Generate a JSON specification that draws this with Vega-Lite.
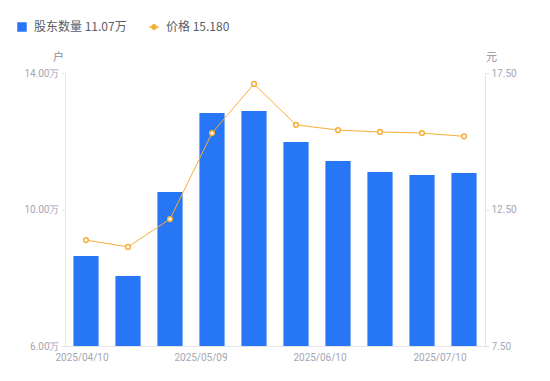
{
  "$schema": "https://vega.github.io/schema/vega-lite/v6.json",
  "width": 420,
  "height": 273,
  "autosize": {"type": "none"},
  "padding": {"left": 65, "top": 73, "right": 65, "bottom": 35},
  "background": "white",
  "config": {
    "view": {"stroke": null},
    "font": "Roboto",
    "axis": {"labelFont": "Roboto", "titleFont": "Noto Sans CJK SC", "labelColor": "#A3A6B4", "labelFontSize": 10, "domainColor": "#E3E5EA", "tickColor": "#E3E5EA", "grid": false, "titleFontWeight": "normal", "titleColor": "#8C8F9A", "titleFontSize": 11}
  },
  "data": {
    "values": [
      {"date": "2025/04/10", "holders": 8.64, "price": 11.38},
      {"date": "2025/04/20", "holders": 8.05, "price": 11.13},
      {"date": "2025/04/30", "holders": 10.51, "price": 12.15},
      {"date": "2025/05/09", "holders": 12.83, "price": 15.30},
      {"date": "2025/05/20", "holders": 12.89, "price": 17.10},
      {"date": "2025/05/31", "holders": 11.98, "price": 15.60},
      {"date": "2025/06/10", "holders": 11.42, "price": 15.41},
      {"date": "2025/06/20", "holders": 11.10, "price": 15.34},
      {"date": "2025/06/30", "holders": 11.01, "price": 15.30},
      {"date": "2025/07/10", "holders": 11.07, "price": 15.18}
    ]
  },
  "encoding": {
    "x": {
      "field": "date", "type": "ordinal", "sort": null,
      "scale": {"paddingInner": 0.4, "paddingOuter": 0.2},
      "axis": {
        "title": null, "labelAngle": 0, "ticks": false, "labelPadding": 6,
        "labelExpr": "indexof(['2025/04/10','2025/05/09','2025/06/10','2025/07/10'], datum.value) >= 0 ? datum.value : ''",
        "labelOffset": {"expr": "datum.value == '2025/04/10' ? -4 : datum.value == '2025/05/09' ? -11 : datum.value == '2025/06/10' ? -18 : -24"}
      }
    }
  },
  "layer": [
    {
      "mark": {"type": "bar", "clip": true},
      "encoding": {
        "y": {
          "field": "holders", "type": "quantitative",
          "scale": {"domain": [6, 14], "nice": false, "zero": false},
          "axis": {
            "values": [6, 10, 14], "orient": "left", "tickSize": 4, "labelPadding": 2,
            "labelExpr": "format(datum.value, '.2f') + '万'",
            "title": "户", "titleAngle": 0, "titleAlign": "center", "titleBaseline": "middle", "titleX": -7, "titleY": -16
          }
        },
        "color": {
          "datum": "股东数量", "type": "nominal",
          "scale": {"domain": ["股东数量", "价格"], "range": ["#2776F6", "#F7AE36"]},
          "legend": {
            "title": null, "orient": "none", "direction": "horizontal", "legendX": -49, "legendY": -52,
            "labelFont": "Noto Sans CJK SC", "labelFontSize": 12, "labelColor": "#5a5d66",
            "symbolSize": 90, "columnPadding": 16, "labelOffset": 6,
            "labelExpr": "datum.label == '股东数量' ? '股东数量  11.07万' : '价格  15.180'",
            "encode": {
              "symbols": {
                "update": {
                  "shape": {"signal": "datum.value === '价格' ? 'M-1,0L-0.45,0M0.45,0L1,0M0.45,0A0.45,0.45 0 1 1 -0.45,0A0.45,0.45 0 1 1 0.45,0' : 'square'"},
                  "fill": {"signal": "datum.value === '价格' ? 'white' : '#2776F6'"},
                  "stroke": {"signal": "datum.value === '价格' ? '#F7AE36' : '#2776F6'"},
                  "strokeWidth": {"signal": "datum.value === '价格' ? 1.5 : 0"},
                  "size": {"signal": "datum.value === '价格' ? 90 : 90"}
                }
              }
            }
          }
        }
      }
    },
    {
      "layer": [
        {
          "mark": {"type": "line", "strokeWidth": 1, "color": "#F7AE36"},
          "encoding": {
            "y": {
              "field": "price", "type": "quantitative",
              "scale": {"domain": [7.5, 17.5], "nice": false, "zero": false},
              "axis": {
                "values": [7.5, 12.5, 17.5], "orient": "right", "tickSize": 4, "labelPadding": 2, "format": ".2f",
                "title": "元", "titleAngle": 0, "titleAlign": "center", "titleBaseline": "middle", "titleX": 6, "titleY": -16
              }
            },
            "color": {"datum": "价格", "type": "nominal"}
          }
        },
        {
          "mark": {"type": "point", "filled": true, "fill": "white", "stroke": "#F7AE36", "strokeWidth": 1.5, "size": 22, "opacity": 1},
          "encoding": {
            "y": {"field": "price", "type": "quantitative"}
          }
        }
      ]
    }
  ],
  "resolve": {"scale": {"y": "independent"}}
}
